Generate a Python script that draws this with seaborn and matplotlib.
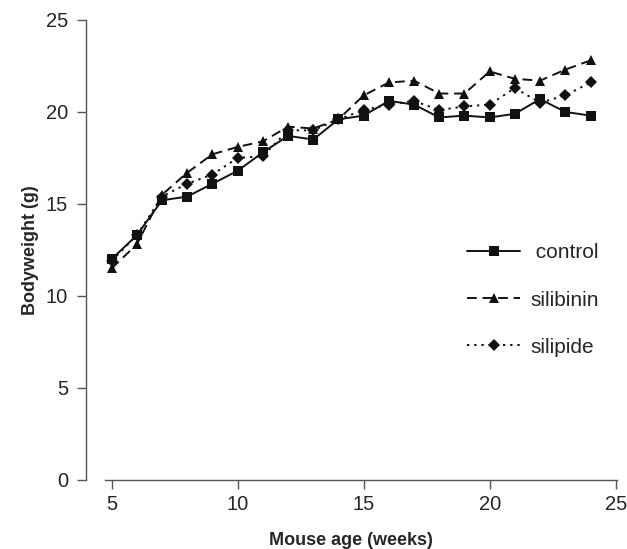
import pandas as pd
import matplotlib
matplotlib.use("Agg")
import matplotlib.pyplot as plt
import seaborn as sns

# -------------------------------
# Data
# -------------------------------
weeks = list(range(5, 25))
control = [12.0, 13.3, 15.2, 15.4, 16.1, 16.8, 17.8, 18.7, 18.5, 19.6,
           19.8, 20.6, 20.4, 19.7, 19.8, 19.7, 19.9, 20.7, 20.0, 19.8]
silibinin = [11.5, 12.8, 15.5, 16.7, 17.7, 18.1, 18.4, 19.2, 19.1, 19.6,
             20.9, 21.6, 21.7, 21.0, 21.0, 22.2, 21.8, 21.7, 22.3, 22.8]
silipide = [11.9, 13.3, 15.4, 16.1, 16.6, 17.5, 17.6, 19.0, 19.0, 19.6,
            20.1, 20.4, 20.6, 20.1, 20.3, 20.4, 21.3, 20.5, 20.9, 21.6]
groups = [" control", "silibinin", "silipide"]

df = pd.concat([
    pd.DataFrame({"week": weeks, "weight": vals, "group": g})
    for g, vals in zip(groups, [control, silibinin, silipide])
])

# -------------------------------
# Plot
# -------------------------------
sns.set_style("white")
plt.rcParams["font.family"] = ["Liberation Sans", "DejaVu Sans"]

fig = plt.figure(figsize=(6.27, 5.49), dpi=100)
ax = fig.add_axes([0.137, 0.1257, 0.847, 0.838])

sns.lineplot(
    data=df, x="week", y="weight", style="group",
    markers={" control": "s", "silibinin": "^", "silipide": "D"},
    dashes={" control": "", "silibinin": (5, 3), "silipide": (1.2, 2.5)},
    color="#111111", linewidth=1.4, markersize=7.5,
    markeredgewidth=0, ax=ax,
)
for ln in ax.lines:
    if ln.get_marker() == "D":
        ln.set_markersize(6)

ax.set_xlim(3.98, 25.05)
ax.set_ylim(0, 25)
ax.set_xticks([5, 10, 15, 20, 25])
ax.set_yticks([0, 5, 10, 15, 20, 25])

for side in ["top", "right"]:
    ax.spines[side].set_visible(False)
ax.spines["bottom"].set_bounds(4.72, 25.05)
for side in ["left", "bottom"]:
    ax.spines[side].set_color("#555555")
    ax.spines[side].set_linewidth(1.0)

ax.tick_params(axis="both", direction="out", length=6.3, width=1.0,
               color="#555555", labelsize=14.5)
ax.tick_params(axis="y", pad=6.5, left=True)
ax.tick_params(axis="x", pad=4.5, bottom=True)

ax.set_xlabel("Mouse age (weeks)", fontsize=13, fontweight="bold", labelpad=13)
ax.set_ylabel("Bodyweight (g)", fontsize=13, fontweight="bold", labelpad=5)

ax.legend(frameon=False, loc="center left", bbox_to_anchor=(0.7175, 0.391),
          fontsize=15, handlelength=2.55, labelspacing=1.35, handletextpad=0.5,
          borderpad=0, borderaxespad=0, title=None)

fig.savefig("out.png", dpi=100)
